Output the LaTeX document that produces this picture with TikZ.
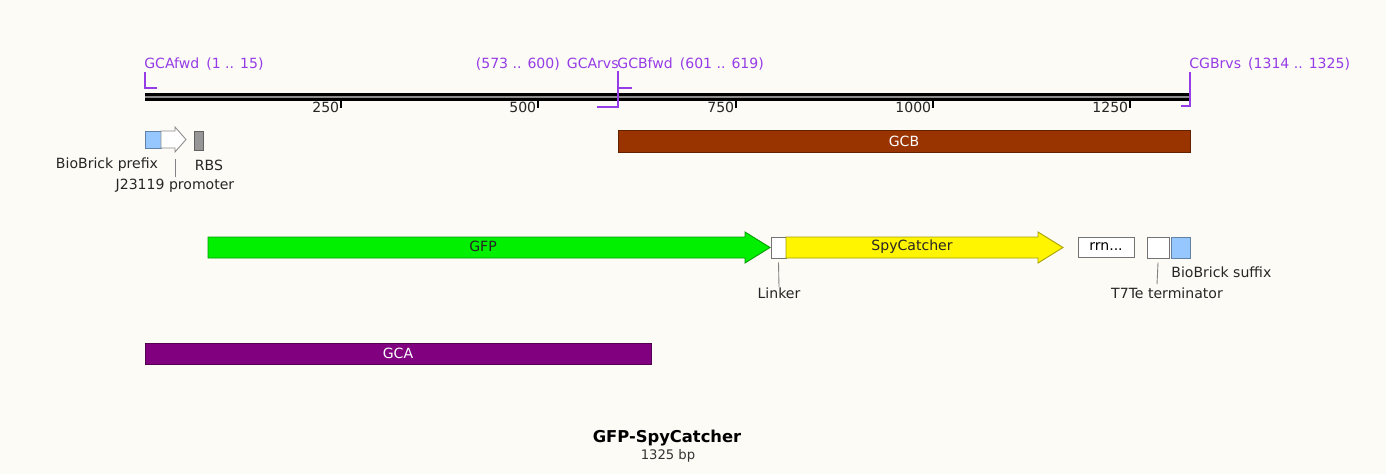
\documentclass[tikz,border=0pt]{standalone}
\usepackage{fontspec}
\setmainfont{DejaVu Sans}
\definecolor{bgcream}{RGB}{253,251,245}
\definecolor{primer}{RGB}{150,60,230}
\definecolor{gcbcol}{RGB}{153,51,0}
\definecolor{gcacol}{RGB}{128,0,128}
\definecolor{gfpcol}{RGB}{0,240,0}
\definecolor{spycol}{RGB}{255,245,0}
\definecolor{bbblue}{RGB}{150,200,255}
\definecolor{rbsgray}{RGB}{150,150,150}
\definecolor{leader}{RGB}{130,130,130}
\begin{document}
\begin{tikzpicture}[x=0.2mm,y=-0.2mm,
  lbl/.style={font=\fontsize{8}{9.6}\selectfont, inner sep=0pt, text=black!85},
  plbl/.style={font=\fontsize{8}{9.6}\selectfont, inner sep=0pt, text=primer},
  feat/.style={draw=#1!65!black, fill=#1, line width=0.5pt, inner sep=0pt},
  boxfeat/.style={feat=#1, rectangle},
  primerline/.style={draw=primer, line width=0.7pt},
  leaderline/.style={draw=leader, line width=0.5pt},
  tick/.style={draw=black, line width=0.9pt}]
\fill[bgcream] (0,0) rectangle (1386,474);
\useasboundingbox (0,0) rectangle (1386,474);

% sequence backbone
\fill[black!45] (145,94) rectangle (1190,100);
\draw[black, line width=1.4pt] (145,94.3) -- (1190,94.3);
\draw[black, line width=1.4pt] (145,99.7) -- (1190,99.7);

% scale ticks
\foreach \xx/\lab in {341/250, 538/500, 736/750, 933/1000, 1130/1250} {
  \coordinate (t\lab) at (\xx,100);
  \coordinate (b\lab) at (\xx,108);
  \draw[tick] (t\lab) -- (b\lab);
  \node[lbl, anchor=east] (n\lab) at (\xx-1.5,107) {\lab};
}

% primers
\node[plbl, anchor=west] (gcafwd) at (144,64) {GCAfwd\enspace(1 .. 15)};
\coordinate (pa1) at (145,72);
\coordinate (pa2) at (145,88);
\coordinate (pa3) at (157,88);
\draw[primerline] (pa1) -- (pa2) -- (pa3);

\node[plbl, anchor=east] (gcarvs) at (619,64) {(573 .. 600)\enspace GCArvs};
\node[plbl, anchor=west] (gcbfwd) at (617,64) {GCBfwd\enspace(601 .. 619)};
\coordinate (pb1) at (597,107);
\coordinate (pb2) at (618,107);
\coordinate (pb3) at (618,71);
\coordinate (pb4) at (618,88);
\coordinate (pb5) at (632,88);
\draw[primerline] (pb1) -- (pb2) -- (pb3);
\draw[primerline] (pb4) -- (pb5);

\node[plbl, anchor=west] (cgbrvs) at (1189,64) {CGBrvs\enspace(1314 .. 1325)};
\coordinate (pc1) at (1181,106);
\coordinate (pc2) at (1190,106);
\coordinate (pc3) at (1190,72);
\draw[primerline] (pc1) -- (pc2) -- (pc3);

% upstream parts
\node[boxfeat=bbblue, minimum width=3.2mm, minimum height=3.4mm] (prefix) at (153,139.5) {};
\draw[feat=white, draw=black!45] (161,131) -- (175,131) -- (175,127) -- (186,139.5)
  -- (175,152) -- (175,148) -- (161,148) -- cycle;
\coordinate (promoter) at (175,159);
\node[boxfeat=rbsgray, minimum width=1.8mm, minimum height=3.8mm] (rbs) at (198.5,140.5) {};

\node[lbl] (prefixlbl) at (107,165) {BioBrick prefix};
\node[lbl] (rbslbl) at (209,165) {RBS};
\node[lbl] (promlbl) at (175,186) {J23119 promoter};
\draw[leaderline] (promoter) -- ([yshift=0.4mm]promlbl.north);

% GCB fragment
\node[boxfeat=gcbcol, minimum width=114.4mm, minimum height=4.4mm,
      font=\fontsize{8}{9.6}\selectfont, text=white] (gcb) at (904,141) {GCB};

% coding parts
\draw[feat=gfpcol] (208,237) -- (745,237) -- (745,232) -- (770,247.5)
  -- (745,263) -- (745,258) -- (208,258) -- cycle;
\node[lbl] (gfp) at (483,246.5) {GFP};

\node[boxfeat=white, draw=black!55, minimum width=3mm, minimum height=4.2mm] (linker) at (778.5,247.5) {};

\draw[feat=spycol] (786,237) -- (1038,237) -- (1038,232) -- (1063,247.5)
  -- (1038,263) -- (1038,258) -- (786,258) -- cycle;
\node[lbl] (spy) at (912,246.5) {SpyCatcher};

\node[boxfeat=white, draw=black!55, minimum width=11.2mm, minimum height=4mm,
      font=\fontsize{8}{9.6}\selectfont] (rrn) at (1106,247) {rrn...};
\node[boxfeat=white, draw=black!55, minimum width=4.4mm, minimum height=4.2mm] (t7te) at (1158,247.5) {};
\node[boxfeat=bbblue, minimum width=3.8mm, minimum height=4.2mm] (suffix) at (1180.5,247.5) {};

\node[lbl] (linkerlbl) at (779,293) {Linker};
\draw[leaderline] ([yshift=-0.8mm]linker.south) -- (linkerlbl.north);
\node[lbl] (t7telbl) at (1167,293) {T7Te terminator};
\draw[leaderline] ([yshift=-0.8mm]t7te.south) -- ([xshift=-10*0.2mm, yshift=0.6mm]t7telbl.north);
\node[lbl, anchor=west] (suffixlbl) at (1171,272) {BioBrick suffix};

% GCA fragment
\node[boxfeat=gcacol, minimum width=101.2mm, minimum height=4.2mm,
      font=\fontsize{8}{9.6}\selectfont, text=white] (gca) at (398,353.5) {GCA};

% title
\node[font=\bfseries\fontsize{9.3}{11}\selectfont, inner sep=0pt] (title) at (667,438) {GFP-SpyCatcher};
\node[font=\fontsize{7.5}{9}\selectfont, inner sep=0pt, text=black!80] (len) at (668,456) {1325 bp};
\end{tikzpicture}
\end{document}
